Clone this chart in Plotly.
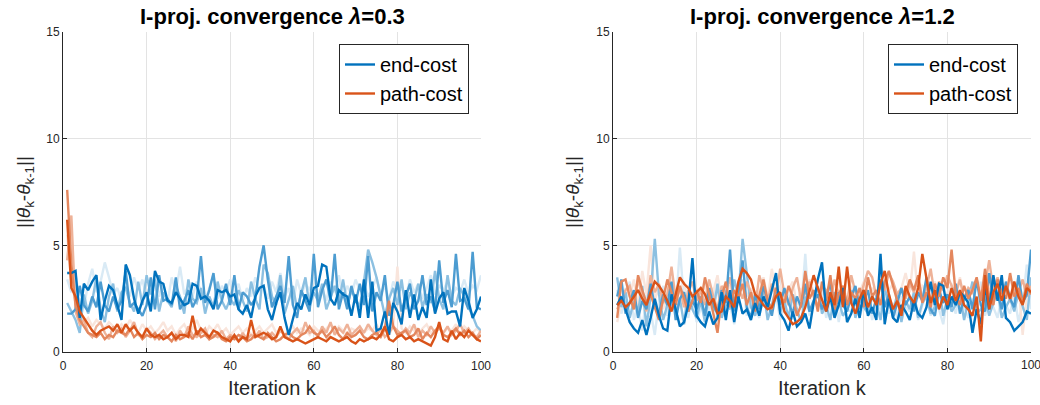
import plotly.graph_objects as go

iterations = list(range(1, 101))

# ---- lambda = 0.3 panel ----
left_end_1 = [3.7, 3.7, 3.8, 1.6, 3.2, 2.9, 3.3, 3.6, 1.5, 2.4,
              3.1, 2.9, 2.2, 1.5, 4.1, 3.6, 2.5, 1.8, 2.4, 2.8,
              1.9, 3.8, 3.3, 3.2, 2.4, 2.3, 2.8, 2.5, 2.2, 2.3,
              3.2, 3.1, 2.5, 2.6, 2.4, 2.0, 2.9, 2.8, 2.9, 2.6,
              2.7, 2.0, 1.8, 2.2, 1.6, 2.6, 3.0, 3.1, 2.0, 1.5,
              2.3, 2.8, 1.6, 0.8, 1.5, 2.3, 2.0, 2.7, 2.2, 3.0,
              3.1, 4.1, 4.0, 2.5, 2.2, 2.9, 2.7, 2.6, 1.7, 2.7,
              1.6, 3.4, 1.6, 3.3, 1.0, 1.1, 1.9, 0.8, 2.3, 1.9,
              1.3, 2.9, 1.6, 2.7, 1.5, 2.1, 1.6, 3.4, 1.8, 2.5,
              2.8, 1.8, 1.9, 1.9, 1.2, 3.0, 2.4, 1.6, 2.0, 2.6]
left_end_2 = [1.8, 1.8, 2.0, 3.1, 2.2, 1.9, 2.6, 2.1, 3.3, 2.2,
              1.9, 2.6, 2.0, 2.4, 3.8, 2.1, 2.3, 2.0, 1.7, 2.2,
              3.5, 2.0, 3.6, 2.4, 2.5, 2.2, 3.5, 2.0, 2.4, 2.9,
              2.1, 2.5, 4.5, 2.3, 2.9, 3.7, 2.0, 2.4, 3.2, 2.2,
              3.6, 2.0, 2.8, 2.6, 2.2, 2.5, 4.0, 5.0, 3.4, 2.1,
              2.6, 3.1, 2.3, 4.5, 2.2, 1.6, 2.9, 2.4, 1.9, 4.6,
              2.1, 2.9, 3.4, 2.4, 4.6, 2.0, 2.8, 2.0, 3.1, 2.3,
              3.2, 2.2, 4.5, 1.9, 2.8, 2.4, 3.6, 1.7, 2.2, 3.3,
              1.9, 2.6, 3.2, 2.0, 2.4, 3.6, 2.2, 2.6, 1.9, 4.3,
              2.3, 2.9, 2.1, 4.6, 2.4, 2.5, 2.0, 4.7, 2.1, 2.0]
left_end_3 = [2.3, 1.9, 1.5, 0.9, 2.7, 1.8, 2.4, 3.5, 2.0, 1.4,
              2.6, 3.2, 1.9, 2.8, 3.0, 2.3, 1.9, 3.3, 2.2, 3.6,
              2.7, 3.4, 1.9, 2.8, 2.4, 2.1, 3.1, 2.6, 1.8, 3.4,
              2.5, 2.3, 3.0, 1.8, 2.6, 2.1, 3.3, 2.4, 2.0, 2.5,
              2.2, 2.9, 2.4, 1.9, 3.3, 2.5, 2.0, 4.1, 3.7, 2.6,
              2.2, 3.6, 1.8, 2.4, 3.1, 2.0, 2.7, 3.5, 2.1, 2.8,
              2.4, 3.2, 2.0, 2.6, 3.1, 2.3, 3.4, 2.2, 2.9, 2.5,
              2.1, 3.3, 4.8, 4.2, 3.5, 2.6, 1.7, 2.5, 3.0, 2.2,
              3.4, 2.0, 2.8, 2.4, 3.2, 2.1, 2.7, 2.3, 3.8, 2.5,
              2.0, 3.6, 2.4, 2.2, 3.0, 2.6, 2.1, 1.7, 1.2, 1.0]
left_end_4 = [3.4, 2.8, 3.6, 2.5, 2.1, 3.2, 3.9, 2.8, 3.3, 4.2,
              3.5, 2.7, 3.0, 2.4, 3.1, 2.6, 3.5, 2.9, 3.4, 2.5,
              3.0, 3.7, 2.6, 3.2, 2.3, 3.5, 2.8, 4.0, 2.7, 3.1,
              2.6, 3.3, 2.9, 2.4, 3.0, 3.6, 2.5, 3.1, 2.8, 3.4,
              2.7, 3.2, 2.4, 3.0, 2.6, 3.5, 2.9, 3.1, 2.5, 3.3,
              2.8, 3.7, 2.6, 3.0, 2.2, 3.4, 2.7, 3.2, 2.9, 3.5,
              2.6, 3.0, 2.4, 3.3, 2.8, 3.6, 2.5, 3.1, 2.7, 3.4,
              2.9, 3.2, 2.6, 3.0, 3.5, 2.7, 3.1, 2.4, 3.3, 2.9,
              3.0, 2.6, 3.4, 2.8, 3.2, 2.5, 3.0, 3.6, 2.7, 3.1,
              2.9, 3.3, 2.6, 3.0, 2.8, 3.4, 2.7, 3.1, 2.9, 3.6]

left_path_1 = [6.2, 3.0, 2.6, 1.9, 1.6, 1.3, 1.0, 0.8, 1.0, 1.1,
               1.2, 1.0, 1.3, 0.9, 1.3, 1.0, 1.2, 0.9, 0.7, 1.1,
               0.8, 0.7, 0.8, 0.6, 0.7, 0.9, 0.6, 0.8, 0.8, 0.7,
               1.7, 0.8, 1.1, 0.9, 0.7, 1.0, 0.9, 0.7, 0.6, 0.5,
               0.8, 0.5, 0.7, 0.6, 1.5, 0.7, 0.8, 0.9, 0.8, 0.6,
               0.7, 1.2, 0.7, 0.6, 0.5, 0.6, 0.5, 0.4, 0.5, 0.6,
               0.7, 0.6, 0.5, 0.7, 0.6, 0.5, 0.6, 0.7, 0.5, 0.4,
               0.6, 0.5, 0.6, 0.7, 0.6, 0.8, 1.2, 0.6, 0.5, 0.7,
               0.8, 0.6, 0.7, 0.5, 0.6, 0.5, 0.4, 0.3, 0.7, 1.4,
               0.6, 0.5, 1.0, 0.6, 0.9, 0.7, 1.0, 0.8, 0.6, 0.5]
left_path_2 = [7.6, 4.1, 2.2, 1.5, 1.2, 0.9, 0.8, 0.7, 0.9, 0.6,
               0.8, 0.7, 1.0, 0.9, 0.8, 1.1, 0.7, 0.9, 0.6, 0.8,
               0.7, 0.9, 0.6, 0.8, 0.7, 0.5, 0.8, 0.6, 0.7, 0.9,
               0.6, 1.0, 0.7, 0.8, 0.6, 0.7, 0.9, 0.6, 0.5, 0.7,
               0.6, 0.8, 0.7, 0.5, 0.6, 0.8, 0.7, 0.6, 0.9, 0.7,
               0.5, 0.6, 0.8, 0.9, 0.7, 0.6, 0.8, 0.9, 1.2, 0.9,
               0.8, 1.0, 0.7, 0.9, 1.2, 0.8, 0.6, 0.9, 0.7, 0.8,
               1.0, 0.7, 0.6, 0.8, 0.9, 0.7, 1.1, 2.4, 1.2, 0.8,
               0.9, 1.0, 0.7, 0.8, 1.1, 0.6, 0.9, 0.7, 1.0, 1.2,
               0.8, 0.7, 0.9, 1.1, 0.8, 1.0, 0.7, 0.9, 0.6, 0.8]
left_path_3 = [4.3, 6.4, 1.9, 1.3, 1.5, 0.9, 0.7, 1.2, 1.4, 0.9,
               0.6, 1.2, 0.9, 1.1, 0.7, 1.0, 1.4, 0.8, 0.7, 1.1,
               0.9, 0.6, 0.8, 1.0, 0.7, 0.9, 0.5, 1.0, 0.7, 1.2,
               0.8, 0.7, 0.9, 1.1, 0.6, 0.8, 0.7, 1.0, 0.6, 0.8,
               0.7, 0.5, 0.9, 0.6, 0.8, 0.7, 1.0, 0.6, 0.7, 0.9,
               0.7, 1.0, 0.8, 0.6, 0.9, 1.1, 0.8, 1.4, 0.9, 1.0,
               0.7, 1.2, 0.9, 1.4, 0.8, 1.1, 0.9, 1.3, 0.8, 1.0,
               1.2, 0.9, 1.3, 1.0, 0.8, 1.1, 0.7, 0.9, 1.2, 1.0,
               0.8, 1.1, 0.9, 1.3, 0.7, 1.0, 0.8, 1.2, 0.9, 1.1,
               0.9, 1.2, 0.8, 1.0, 1.3, 0.9, 1.1, 0.8, 0.7, 1.0]
left_path_4 = [5.5, 3.2, 2.4, 1.8, 1.4, 1.6, 1.2, 1.5, 1.3, 1.1,
               1.4, 1.2, 1.0, 1.3, 1.1, 1.5, 1.2, 0.9, 1.3, 1.0,
               1.2, 0.9, 1.1, 1.4, 1.0, 1.2, 0.8, 1.1, 1.3, 0.9,
               1.1, 1.5, 1.0, 0.8, 1.2, 1.0, 1.3, 0.9, 1.1, 0.8,
               1.0, 1.2, 0.9, 1.1, 0.8, 1.0, 1.2, 0.9, 1.1, 1.3,
               0.9, 1.1, 0.8, 1.0, 1.2, 0.9, 1.1, 1.0, 0.8, 1.2,
               1.0, 0.9, 1.1, 1.3, 0.9, 1.2, 1.0, 0.8, 1.1, 1.0,
               1.2, 0.9, 1.1, 1.0, 1.3, 0.9, 1.1, 0.8, 1.2, 4.0,
               1.1, 0.9, 1.2, 1.0, 0.8, 1.1, 1.3, 0.9, 1.0, 1.2,
               0.9, 1.1, 1.0, 1.3, 0.8, 1.2, 1.0, 0.9, 1.1, 0.9]

# ---- lambda = 1.2 panel ----
right_end_1 = [2.2, 2.6, 2.0, 1.4, 1.1, 0.9, 1.5, 0.8, 1.6, 2.5,
               1.7, 1.1, 1.0, 2.7, 2.0, 1.2, 1.4, 2.2, 4.4, 1.7,
               1.4, 1.2, 1.9, 1.3, 1.6, 2.8, 1.5, 2.9, 1.4, 2.6,
               1.8, 2.0, 1.5, 2.3, 1.7, 2.6, 2.1, 2.9, 3.7, 1.8,
               1.5, 1.0, 1.9, 1.2, 1.4, 1.8, 1.1, 2.3, 3.4, 4.2,
               1.9, 2.6, 1.6, 2.2, 3.0, 1.4, 1.8, 2.5, 1.6, 2.9,
               1.7, 2.1, 1.5, 4.6, 1.3, 2.5, 1.6, 1.4, 2.2, 1.9,
               1.5, 2.4, 1.8, 1.6, 2.1, 3.3, 2.2, 3.2, 3.1, 2.0,
               2.6, 2.2, 2.8, 2.6, 2.3, 0.9, 2.0, 1.3, 3.1, 2.0,
               3.6, 2.4, 3.6, 1.6, 1.4, 1.0, 1.2, 1.4, 1.9, 1.8]
right_end_2 = [2.6, 3.4, 1.8, 2.3, 2.9, 1.6, 2.4, 2.0, 3.2, 2.1,
               1.8, 2.7, 2.2, 3.3, 1.5, 2.5, 2.8, 1.9, 2.4, 2.0,
               2.6, 1.7, 3.0, 2.2, 1.8, 2.9, 2.3, 4.8, 1.9, 2.5,
               4.3, 2.1, 1.6, 2.7, 2.0, 3.1, 2.4, 1.7, 2.8, 2.2,
               3.0, 2.3, 1.8, 2.6, 2.1, 3.2, 1.9, 2.4, 2.7, 2.0,
               2.5, 3.3, 1.7, 2.8, 2.2, 1.9, 2.6, 3.1, 2.0, 2.4,
               2.9, 1.8, 2.5, 3.4, 2.1, 2.7, 1.6, 2.3, 3.0, 2.2,
               2.6, 1.9, 2.8, 2.4, 3.5, 2.0, 1.7, 2.9, 2.3, 2.7,
               2.1, 3.2, 1.8, 2.5, 2.9, 2.0, 3.4, 2.2, 1.9, 3.7,
               2.4, 2.8, 2.0, 3.3, 2.5, 2.1, 3.6, 2.3, 2.7, 4.8]
right_end_3 = [3.5, 2.1, 2.8, 1.6, 2.4, 1.9, 3.1, 1.2, 2.6, 5.3,
               2.7, 1.5, 2.2, 3.0, 1.8, 2.5, 1.3, 2.9, 2.0, 1.6,
               2.4, 1.4, 2.8, 1.9, 3.2, 1.6, 2.3, 2.0, 3.4, 2.6,
               5.3, 3.7, 2.1, 1.7, 2.5, 2.9, 1.5, 2.2, 3.0, 1.9,
               2.4, 1.6, 2.7, 2.0, 1.4, 2.6, 1.9, 2.3, 3.1, 1.8,
               2.2, 1.5, 2.8, 2.4, 1.7, 2.0, 2.9, 1.6, 2.5, 2.1,
               1.8, 2.6, 2.3, 1.5, 3.0, 2.2, 1.9, 2.7, 1.4, 2.4,
               2.0, 2.8, 1.6, 2.3, 2.6, 1.8, 2.1, 3.1, 1.7, 2.5,
               1.9, 2.2, 2.7, 1.5, 2.4, 3.3, 1.8, 2.0, 2.6, 1.7,
               2.3, 2.9, 1.6, 2.1, 2.5, 1.9, 2.8, 2.2, 1.5, 3.5]
right_end_4 = [2.9, 1.8, 2.5, 3.3, 1.5, 2.2, 1.0, 2.7, 1.9, 0.8,
               2.4, 3.1, 1.7, 2.6, 2.0, 4.9, 2.3, 1.6, 2.8, 1.4,
               2.1, 2.7, 1.9, 3.0, 1.5, 2.4, 1.8, 2.2, 1.3, 2.6,
               3.4, 1.7, 2.5, 2.0, 1.6, 2.8, 2.3, 1.9, 2.7, 1.5,
               2.2, 2.9, 1.8, 2.4, 2.0, 4.6, 1.7, 2.5, 2.1, 3.0,
               1.6, 2.3, 2.8, 1.4, 2.6, 2.0, 1.9, 2.5, 1.7, 2.2,
               2.7, 1.5, 2.4, 2.0, 3.1, 1.8, 2.3, 1.6, 2.6, 2.1,
               1.9, 2.8, 1.5, 2.2, 2.7, 1.7, 2.4, 2.0, 1.3, 2.6,
               2.3, 1.8, 2.9, 2.1, 1.6, 2.5, 2.0, 3.3, 1.7, 2.4,
               2.1, 1.6, 2.6, 2.2, 1.8, 2.7, 1.4, 2.3, 4.1, 2.0]

right_path_1 = [2.2, 2.4, 2.1, 2.3, 2.6, 2.9, 2.5, 2.2, 2.8, 3.3,
                3.1, 2.8, 2.4, 1.9, 2.7, 3.5, 3.2, 3.0, 2.6, 2.8,
                3.0, 2.7, 2.2, 2.5, 1.8, 1.9, 2.6, 2.4, 2.1, 3.3,
                3.9, 3.7, 3.4, 2.7, 2.5, 2.2, 2.0, 2.1, 2.6, 2.8,
                1.9, 1.6, 1.3, 1.4, 1.6, 2.1, 2.9, 3.6, 3.0, 2.4,
                1.9, 2.8, 2.2, 4.0, 2.1, 4.0, 2.3, 1.8, 2.5, 2.9,
                2.1, 2.6, 2.2, 3.2, 3.8, 2.7, 2.0, 2.4, 1.7, 3.1,
                2.6, 2.3, 3.0, 4.6, 3.4, 2.3, 2.9, 2.0, 2.6, 2.2,
                3.0, 2.4, 2.9, 2.2, 2.0, 1.7, 2.6, 0.5, 3.6, 2.0,
                2.8, 3.2, 2.4, 3.1, 2.5, 3.3, 2.6, 2.2, 3.0, 2.8]
right_path_2 = [1.6, 3.3, 3.4, 2.6, 2.0, 3.6, 2.9, 2.3, 2.7, 2.1,
                1.5, 2.5, 3.4, 2.8, 2.2, 3.1, 2.5, 1.9, 2.4, 2.9,
                2.3, 3.5, 2.7, 1.8, 0.9, 2.6, 3.3, 2.1, 2.9, 2.5,
                3.2, 2.2, 2.8, 1.9, 2.6, 3.4, 2.4, 2.0, 3.0, 2.7,
                2.3, 3.1, 2.6, 1.7, 2.2, 3.8, 2.5, 2.9, 1.9, 3.3,
                2.4, 3.6, 2.0, 2.7, 3.1, 2.2, 2.8, 2.5, 3.0, 2.1,
                3.5, 2.6, 2.9, 2.2, 3.3, 3.8, 3.1, 2.4, 2.0, 2.7,
                3.4, 2.9, 3.6, 2.3, 2.8, 2.1, 3.2, 2.6, 3.5, 3.0,
                4.8, 2.7, 2.2, 3.1, 2.5, 2.9, 3.5, 2.4, 3.9, 2.6,
                2.2, 3.4, 2.8, 2.5, 3.7, 2.6, 3.0, 2.3, 3.2, 2.7]
right_path_3 = [2.0, 2.5, 2.9, 3.1, 2.4, 3.4, 2.6, 1.9, 3.6, 2.8,
                3.2, 2.3, 2.7, 4.0, 2.5, 3.0, 2.1, 2.8, 3.3, 2.4,
                2.9, 2.2, 3.4, 2.6, 2.0, 3.1, 2.7, 3.5, 2.3, 3.0,
                2.5, 3.3, 2.8, 2.1, 3.6, 2.9, 2.4, 3.2, 2.6, 3.9,
                2.7, 2.2, 3.0, 3.5, 2.4, 2.8, 3.3, 2.6, 2.1, 3.1,
                2.9, 2.4, 3.4, 2.7, 3.0, 2.3, 3.6, 2.8, 2.5, 3.2,
                3.8, 3.5, 2.6, 3.1, 2.9, 3.7, 3.3, 2.7, 3.0, 2.5,
                3.2, 2.8, 3.5, 2.4, 3.0, 3.9, 2.6, 3.3, 2.9, 3.6,
                3.1, 2.7, 3.4, 2.5, 3.0, 2.8, 3.3, 2.6, 3.1, 4.3,
                2.9, 3.5, 2.7, 3.2, 2.4, 3.0, 2.8, 3.4, 2.6, 3.1]
right_path_4 = [1.4, 2.3, 3.0, 2.6, 3.4, 2.1, 3.8, 2.7, 5.0, 2.4,
                3.1, 2.0, 2.8, 3.5, 2.3, 2.9, 3.3, 2.2, 2.6, 3.0,
                2.5, 3.2, 2.1, 2.8, 3.6, 2.4, 2.9, 3.1, 2.2, 2.7,
                3.4, 2.6, 3.0, 2.3, 2.8, 3.5, 2.5, 3.9, 2.7, 3.1,
                2.4, 2.9, 3.3, 2.2, 3.0, 2.6, 3.4, 2.8, 2.5, 3.2,
                2.7, 3.0, 2.3, 3.5, 2.9, 2.6, 3.1, 2.4, 2.8, 3.3,
                2.5, 3.0, 2.7, 3.4, 2.2, 2.9, 3.2, 2.6, 3.0, 3.7,
                2.8, 4.7, 2.5, 3.1, 2.9, 2.4, 3.3, 2.7, 3.0, 2.6,
                3.2, 2.8, 3.5, 2.4, 3.0, 2.7, 3.4, 2.9, 2.5, 3.1,
                2.8, 3.3, 2.6, 3.0, 2.3, 2.9, 3.2, 0.8, 2.7, 3.0]

panel_titles = ["I-proj. convergence <i>λ</i>=0.3", "I-proj. convergence <i>λ</i>=1.2"]
series_names = ["end-cost", "path-cost"]
x_ticks = [0, 20, 40, 60, 80, 100]
y_ticks = [0, 5, 10, 15]

BLUE = (0, 114, 189)
ORANGE = (217, 83, 25)
alphas = [0.15, 0.45, 0.7, 1.0]  # faintest drawn first

panels = [
    ([left_end_4, left_end_3, left_end_2, left_end_1],
     [left_path_4, left_path_3, left_path_2, left_path_1]),
    ([right_end_4, right_end_3, right_end_2, right_end_1],
     [right_path_4, right_path_3, right_path_2, right_path_1]),
]

FONT = "Liberation Sans, Arial, Helvetica, sans-serif"
TXT = "#262626"

def blend(rgb, a):
    r, g, b = rgb
    return "rgb(%d,%d,%d)" % (round(255 + (r - 255) * a), round(255 + (g - 255) * a), round(255 + (b - 255) * a))

fig = go.Figure()

W, H = 1040, 405
x_domains = [[63 / W, 481 / W], [613 / W, 1031 / W]]
y_domain = [1 - 352 / H, 1 - 32 / H]

for p, (ends, paths) in enumerate(panels):
    xa = "x" if p == 0 else "x2"
    ya = "y" if p == 0 else "y2"
    leg = "legend" if p == 0 else "legend2"
    for i, a in enumerate(alphas):
        for name, col, data in ((series_names[0], BLUE, ends[i]), (series_names[1], ORANGE, paths[i])):
            fig.add_trace(go.Scatter(
                x=iterations, y=data, mode="lines", name=name,
                line=dict(color=blend(col, a), width=2.4),
                xaxis=xa, yaxis=ya, legend=leg,
                showlegend=(a == 1.0), legendgroup=f"{p}-{name}",
                hoverinfo="skip",
            ))

axis_common = dict(
    range=[0, 100], tickvals=x_ticks, showgrid=True, gridcolor="#e3e3e3", gridwidth=1,
    showline=True, linecolor=TXT, linewidth=1, ticks="inside", ticklen=4, tickcolor=TXT,
    tickfont=dict(family=FONT, size=12, color=TXT), zeroline=False, mirror=False,
    automargin=False, ticklabelstandoff=3,
)
yaxis_common = dict(
    range=[0, 15], tickvals=y_ticks, showgrid=True, gridcolor="#e3e3e3", gridwidth=1,
    showline=True, linecolor=TXT, linewidth=1, ticks="inside", ticklen=4, tickcolor=TXT,
    tickfont=dict(family=FONT, size=12, color=TXT), zeroline=False, mirror=False,
    automargin=False,
)

legend_common = dict(
    y=1 - 44 / H, xanchor="right", yanchor="top",
    bgcolor="white", bordercolor=TXT, borderwidth=1,
    font=dict(family=FONT, size=20, color="black"), tracegroupgap=0, itemwidth=30,
)

fig.update_layout(
    width=W, height=H, margin=dict(l=0, r=0, t=0, b=0, autoexpand=False),
    paper_bgcolor="white", plot_bgcolor="white",
    font=dict(family=FONT, color=TXT),
    xaxis=dict(domain=x_domains[0], anchor="y", **axis_common),
    yaxis=dict(domain=y_domain, anchor="x", **yaxis_common),
    xaxis2=dict(domain=x_domains[1], anchor="y2", **axis_common),
    yaxis2=dict(domain=y_domain, anchor="x2", **yaxis_common),
    legend=dict(x=469 / W, **legend_common),
    legend2=dict(x=1018 / W, **legend_common),
    showlegend=True,
)

annotations = []
for p in range(2):
    x0, x1 = x_domains[p]
    annotations.append(dict(text="<b>" + panel_titles[p] + "</b>", x=(x0 + x1) / 2, y=1 - 16 / H,
                            xref="paper", yref="paper", showarrow=False,
                            font=dict(family=FONT, size=22, color="black"),
                            xanchor="center", yanchor="middle"))
    annotations.append(dict(text="Iteration k", x=(x0 + x1) / 2, y=1 - 388 / H,
                            xref="paper", yref="paper", showarrow=False,
                            font=dict(family=FONT, size=20, color=TXT),
                            xanchor="center", yanchor="middle"))
    ylab_x = 25 if p == 0 else 574
    annotations.append(dict(text="||<i>θ</i><sub>k</sub>-<i>θ</i><sub>k-1</sub>||",
                            x=ylab_x / W, y=1 - 192 / H, textangle=-90,
                            xref="paper", yref="paper", showarrow=False,
                            font=dict(family=FONT, size=19, color=TXT),
                            xanchor="center", yanchor="middle"))
# the last x tick label of the right panel runs past the page edge (plotly would drop it)
annotations.append(dict(text=str(x_ticks[-1]), x=x_ticks[-1], xref="x2", y=1 - 365 / H, yref="paper",
                        showarrow=False, font=dict(family=FONT, size=12, color=TXT),
                        xanchor="center", yanchor="middle"))
fig.update_layout(annotations=annotations)

fig.write_html("out.html", config={"displayModeBar": False},
               post_script="document.body.style.margin='0';document.body.style.overflow='hidden';")
